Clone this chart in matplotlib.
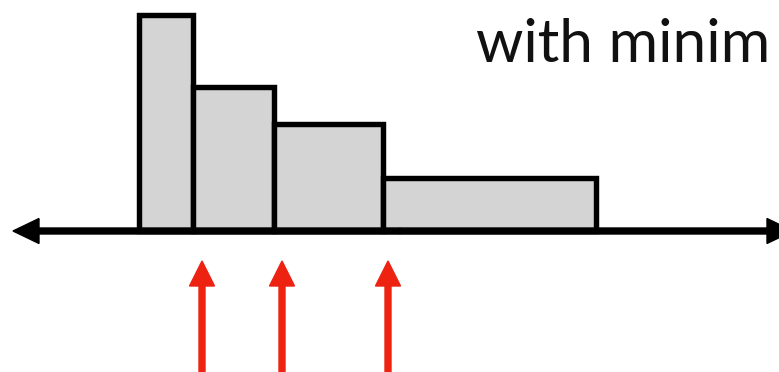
import matplotlib.pyplot as plt

# histogram with equal-count (variable width) bins
bin_edges = [139.5, 193, 274, 383, 596]
heights = [215.5, 144, 107, 53]
# red arrows under the axis
arrow_x = [202, 282, 388]
caption = "with minim"

fig = plt.figure(figsize=(7.79, 3.72), dpi=100)
ax = fig.add_axes([0, 0, 1, 1])
ax.set_xlim(0, 779)
ax.set_ylim(-141, 231)
ax.axis('off')

widths = [bin_edges[i + 1] - bin_edges[i] for i in range(len(heights))]
ax.bar(bin_edges[:-1], heights, width=widths, align='edge',
       color='#d4d4d4', edgecolor='black', linewidth=3.9, zorder=2)

# double headed number line
ax.arrow(400, 0, 13 - 400, 0, width=6, head_width=25, head_length=26,
         length_includes_head=True, color='black', zorder=3)
ax.arrow(400, 0, 793 - 400, 0, width=6, head_width=25, head_length=26,
         length_includes_head=True, color='black', zorder=3)

for x in arrow_x:
    ax.arrow(x, -145, 0, 145 - 30, width=6, head_width=25, head_length=25,
             length_includes_head=True, color='#ee2211', zorder=3)

ax.text(476, 231 - 62, caption, fontsize=43.5, family='Lato',
        fontweight='normal', va='baseline', ha='left', color='#111111')

fig.savefig('out.png', dpi=100)
